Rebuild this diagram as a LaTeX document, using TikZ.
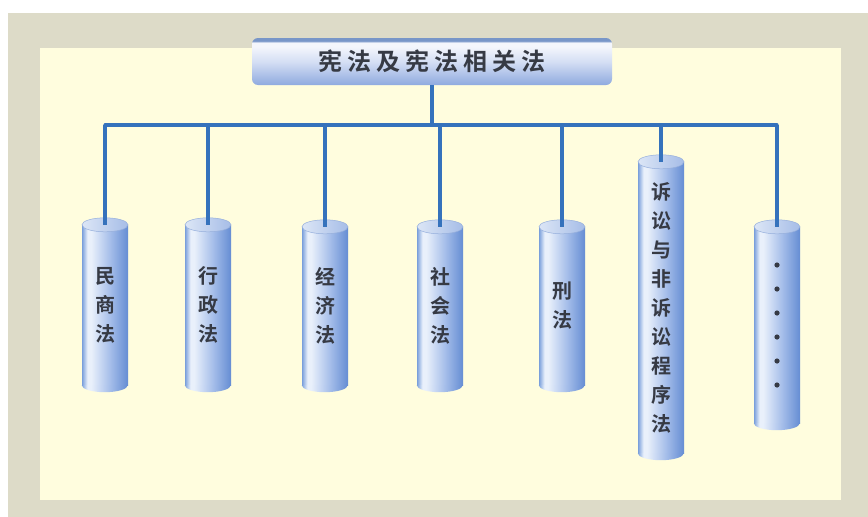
\documentclass[tikz,border=0pt]{standalone}
\usepackage{fontspec}
\newfontfamily\cjk{Noto Sans CJK SC}[BoldFont={Noto Sans CJK SC Bold}]
\definecolor{pagewhite}{HTML}{FFFFFF}
\definecolor{framegrey}{HTML}{DDDBC8}
\definecolor{cream}{HTML}{FFFDDE}
\definecolor{busblue}{HTML}{3572BC}
\definecolor{inkgrey}{HTML}{363A44}
\definecolor{cylL}{HTML}{7A9FDB}
\definecolor{cylH}{HTML}{E9F0FB}
\definecolor{cylM}{HTML}{A7BFEA}
\definecolor{cylR}{HTML}{658DD3}
\definecolor{capL}{HTML}{DCE6F6}
\definecolor{capR}{HTML}{A6BDE7}
\definecolor{capedge}{HTML}{96AFDC}
\definecolor{tBot}{HTML}{8FAADF}
\definecolor{tMid}{HTML}{D5DFF4}
\definecolor{tTop}{HTML}{F4F6FC}
\definecolor{tEdge}{HTML}{7896C8}
\pgfdeclarehorizontalshading{cylbody}{100bp}{color(0bp)=(cylL); color(25bp)=(cylL); color(31bp)=(cylH); color(35bp)=(cylH); color(55bp)=(cylM); color(75bp)=(cylR); color(100bp)=(cylR)}
\pgfdeclareverticalshading{titleshade}{100bp}{color(0bp)=(tBot); color(25bp)=(tBot); color(50bp)=(tMid); color(66bp)=(tTop); color(70bp)=(tTop); color(72bp)=(tEdge); color(75bp)=(tEdge); color(100bp)=(tEdge)}
\tikzset{
  titlebox/.style={shading=titleshade, rounded corners=6pt, minimum width=360pt, minimum height=47pt, inner sep=0pt,
    font=\cjk\bfseries\fontsize{24}{28}\selectfont, text=inkgrey},
  cylnode/.style={shading=cylbody, minimum width=46pt, inner sep=0pt, align=center,
    font=\cjk\bfseries\fontsize{20}{29}\selectfont, text=inkgrey},
  cylbase/.style={shading=cylbody},
  cylcap/.style={left color=capL, right color=capR, draw=capedge, line width=0.5pt},
  bus/.style={draw=busblue, line width=3.2pt},
  branch/.style={draw=busblue, line width=3.2pt},
}
\newcommand\mkcyl[5]{% name, cx, ytop(center of cap), ybottom(straight end), text
  \node[cylnode, minimum height={#4-#3}] (#1) at (#2,{(#3+#4)/2}) {#5};
  \shade[cylbase] (#1.south west) arc[start angle=180, end angle=0, x radius=23, y radius=7] -- cycle;
  \shade[cylcap] (#1.north) ellipse[x radius=23, y radius=7];
}
\begin{document}
\begin{tikzpicture}[x=1pt,y=-1pt]
\useasboundingbox (0,0) rectangle (868,517);
\fill[pagewhite] (0,0) rectangle (868,517);
\fill[framegrey] (8,13) rectangle (868,517);
\fill[cream] (40,48) rectangle (841,500);

\node[titlebox] (title) at (432,61.5) {宪\kern5pt 法\kern5pt 及\kern5pt 宪\kern5pt 法\kern5pt 相\kern5pt 关\kern5pt 法};

\mkcyl{c1}{105}{225}{385}{民\\商\\法}
\mkcyl{c2}{208}{225}{385}{行\\政\\法}
\mkcyl{c3}{325}{227}{385}{经\\济\\法}
\mkcyl{c4}{440}{227}{385}{社\\会\\法}
\mkcyl{c5}{562}{227}{385}{刑\\法}
\mkcyl{c6}{661}{162}{453}{诉\\讼\\与\\非\\诉\\讼\\程\\序\\法}
\mkcyl{c7}{777}{227}{423}{}
\foreach \k in {0,...,5} {
  \fill[inkgrey] ([yshift={(-60+24*\k)*1pt}]c7.center) circle[radius=2.6pt];
}

\coordinate (busL) at (105,125);
\coordinate (busR) at (777,125);
\draw[branch] (title.south) -- (title.south |- busL);
\draw[bus, line cap=round] (busL) -- (busR);
\foreach \n in {c1,c2,c3,c4,c5,c6,c7} {
  \draw[branch] (\n.north |- busL) -- (\n.north);
}
\end{tikzpicture}
\end{document}
